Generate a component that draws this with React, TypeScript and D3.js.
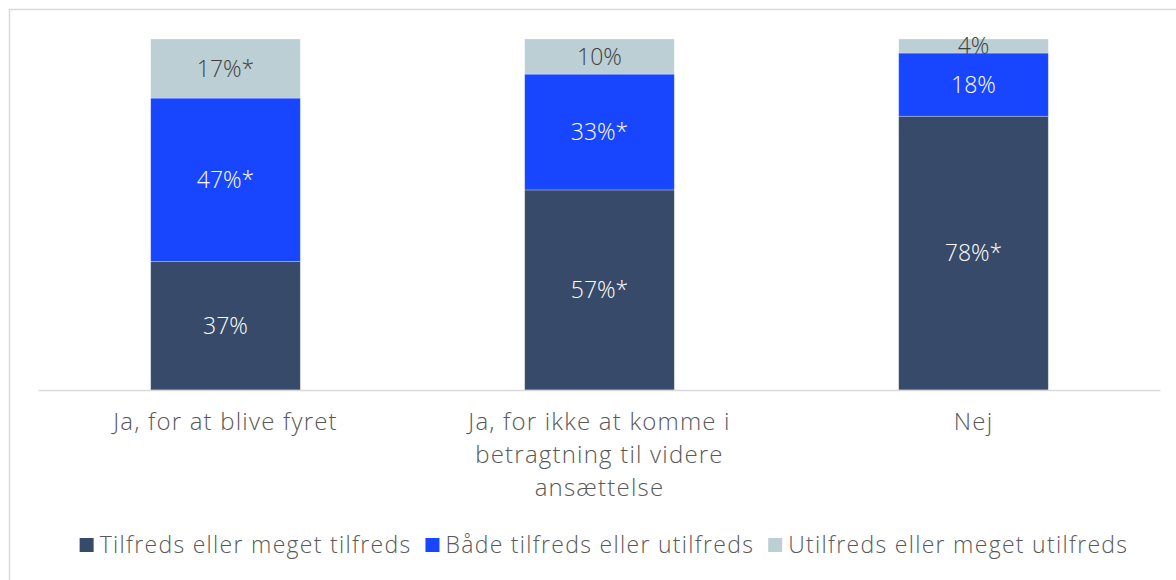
import React, { useLayoutEffect, useRef, useState } from "react";
import * as d3 from "d3";

const categories = [
  ["Ja, for at blive fyret"],
  ["Ja, for ikke at komme i", "betragtning til videre", "ansættelse"],
  ["Nej"],
];
const seriesNames = [
  "Tilfreds eller meget tilfreds",
  "Både tilfreds eller utilfreds",
  "Utilfreds eller meget utilfreds",
];
const seriesColors = ["#374a69", "#1846ff", "#bccfd4"];
const labelColors = ["#ffffff", "#ffffff", "#404040"];
const tilfreds = [37, 57, 78];
const begge = [47, 33, 18];
const utilfreds = [17, 10, 4];
const labels = [
  ["37%", "57%*", "78%*"],
  ["47%*", "33%*", "18%"],
  ["17%*", "10%", "4%"],
];

const W = 1176;
const H = 580;
const FONT = "'Open Sans', 'Noto Sans', sans-serif";

export default function App() {
  const legendRefs = useRef<(SVGTextElement | null)[]>([]);
  const [widths, setWidths] = useState<number[]>([312, 308, 340]);

  useLayoutEffect(() => {
    const w = legendRefs.current.map((t) => (t ? t.getComputedTextLength() : 0));
    if (w.every((v) => v > 0)) setWidths(w);
  }, []);

  const x = d3
    .scaleBand<number>()
    .domain(d3.range(categories.length))
    .range([38.5, 1160.5])
    .paddingInner(0.6)
    .paddingOuter(0.3);
  const y = d3.scaleLinear().domain([0, 1]).range([390, 39]);

  const rows = categories.map((_, i) => ({
    i,
    s0: tilfreds[i],
    s1: begge[i],
    s2: utilfreds[i],
  }));
  const stack = d3
    .stack<any>()
    .keys(["s0", "s1", "s2"])
    .offset(d3.stackOffsetExpand);
  const layers = stack(rows);

  // Legend layout
  const sq = 14;
  const gapSq = 6;
  const gapItem = 14;
  const itemW = widths.map((w) => sq + gapSq + w);
  const total = d3.sum(itemW) + gapItem * (itemW.length - 1);
  const legendStart = 604 - total / 2;
  const legendX: number[] = [];
  let acc = legendStart;
  itemW.forEach((w) => {
    legendX.push(acc);
    acc += w + gapItem;
  });
  const legendY = 545;

  return (
    <svg
      width={W}
      height={H}
      style={{ position: "absolute", left: 0, top: 0, background: "#fff" }}
      fontFamily={FONT}
      fontWeight={300}
    >
      <rect x={9.5} y={9.5} width={1200} height={600} fill="none" stroke="#d9d9d9" strokeWidth={1.5} />
      {layers.map((layer, si) => (
        <g key={si}>
          {layer.map((d, ci) => {
            const x0 = x(ci)!;
            const y0 = y(d[1]);
            const y1 = y(d[0]);
            return (
              <rect
                key={ci}
                x={x0}
                y={y0}
                width={x.bandwidth()}
                height={y1 - y0}
                fill={seriesColors[si]}
                stroke="#ffffff"
                strokeOpacity={0.35}
                strokeWidth={0.75}
              />
            );
          })}
        </g>
      ))}
      <line x1={38.5} x2={1160.5} y1={390.5} y2={390.5} stroke="#d9d9d9" strokeWidth={1.5} />
      {layers.map((layer, si) => (
        <g key={"l" + si}>
          {layer.map((d, ci) => (
            <text
              key={ci}
              x={x(ci)! + x.bandwidth() / 2}
              y={(y(d[0]) + y(d[1])) / 2}
              dy="0.35em"
              textAnchor="middle"
              fontSize={23}
              fill={labelColors[si]}
            >
              {labels[si][ci]}
            </text>
          ))}
        </g>
      ))}
      {categories.map((lines, ci) => (
        <text
          key={ci}
          x={x(ci)! + x.bandwidth() / 2}
          y={422}
          textAnchor="middle"
          fontSize={24}
          letterSpacing={1.2}
          fill="#595959"
        >
          {lines.map((ln, li) => (
            <tspan key={li} x={x(ci)! + x.bandwidth() / 2} y={422 + li * 33} dy="0.35em">
              {ln}
            </tspan>
          ))}
        </text>
      ))}
      {seriesNames.map((name, si) => (
        <g key={si} transform={`translate(${legendX[si]},${legendY})`}>
          <rect x={0} y={-7} width={sq} height={sq} fill={seriesColors[si]} />
          <text
            ref={(el) => {
              legendRefs.current[si] = el;
            }}
            x={sq + gapSq}
            y={0}
            dy="0.35em"
            fontSize={23}
            letterSpacing={1.3}
            fill="#595959"
          >
            {name}
          </text>
        </g>
      ))}
    </svg>
  );
}
